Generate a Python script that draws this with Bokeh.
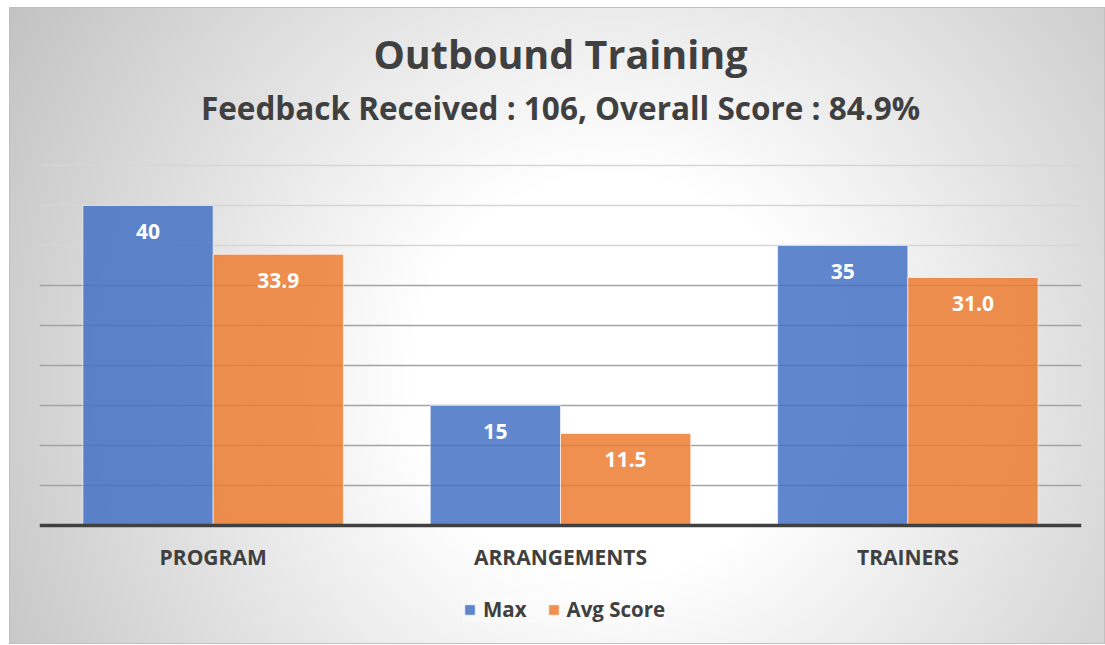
from bokeh.plotting import figure
from bokeh.models import (ColumnDataSource, FactorRange, Range1d, Legend,
                          LegendItem, Grid, FixedTicker, Span)
from bokeh.transform import dodge
from bokeh.core.properties import value
from bokeh.embed import file_html
from bokeh.resources import INLINE

# ---- data ----
categories = ["PROGRAM", "ARRANGEMENTS", "TRAINERS"]
max_values = [40, 15, 35]
avg_values = [33.9, 11.5, 31.0]
max_labels = [f"{v:.0f}" for v in max_values]
avg_labels = [f"{v:.1f}" for v in avg_values]
series_names = ["Max", "Avg Score"]
light_grid = [35, 40, 45]
dark_grid = [5, 10, 15, 20, 25, 30]
title_text = "Outbound Training"
subtitle_text = "Feedback Received : 106, Overall Score : 84.9%"

# ---- layout / style ----
FONT = "Open Sans"
TXT = "#404040"
BLUE = "#4472C4"
ORANGE = "#ED7D31"
FIG_W, FIG_H = 1096, 637
PX_PER_UNIT = 8.0          # vertical scale
TOP_PX = 158               # pixel row of value 45 (from top of figure)
ZERO_PX = 518              # pixel row of value 0
y_end = 45 + TOP_PX / PX_PER_UNIT
y_start = -(FIG_H - ZERO_PX) / PX_PER_UNIT

src = ColumnDataSource(dict(cat=categories, maxv=max_values, avgv=avg_values,
                            maxl=max_labels, avgl=avg_labels))

p = figure(x_range=FactorRange(factors=categories),
           y_range=Range1d(y_start, y_end),
           width=FIG_W, height=FIG_H, output_backend="svg",
           toolbar_location=None, x_axis_location=None, y_axis_location=None,
           min_border_left=30, min_border_right=24, min_border_top=0,
           min_border_bottom=0, title=None)
p.margin = (7, 0, 0, 9)

p.background_fill_alpha = 0
p.border_fill_alpha = 0
p.outline_line_color = None
p.styles = {
    "background": "radial-gradient(circle farthest-corner at 55% 58%, #ffffff 0%, #ffffff 28%, #c2c2c2 100%)",
    "box-shadow": "inset 0 0 0 1px #c0c0c0",
}

# grids
for g in p.grid:
    g.visible = False
p.add_layout(Grid(dimension=1, ticker=FixedTicker(ticks=light_grid),
                  grid_line_color="#d6d6d6", grid_line_width=1.5))
p.add_layout(Grid(dimension=1, ticker=FixedTicker(ticks=dark_grid),
                  grid_line_color="#a3a3a3", grid_line_width=1.5))

# bars
r1 = p.vbar(x=dodge("cat", -0.1875, range=p.x_range), top="maxv", bottom=0,
            width=0.375, source=src, fill_color=BLUE, fill_alpha=0.85,
            line_color="#ffffff", line_alpha=0.6, line_width=1)
r2 = p.vbar(x=dodge("cat", 0.1875, range=p.x_range), top="avgv", bottom=0,
            width=0.375, source=src, fill_color=ORANGE, fill_alpha=0.85,
            line_color="#ffffff", line_alpha=0.6, line_width=1)

# category axis line (value 0)
p.add_layout(Span(location=0, dimension="width", line_color="#404040",
                  line_width=3.5))

# data labels
for col, lbl, off in (("maxv", "maxl", -0.1875), ("avgv", "avgl", 0.1875)):
    p.text(x=dodge("cat", off, range=p.x_range), y=col, text=lbl, source=src,
           y_offset=26, text_align="center", text_baseline="alphabetic",
           text_color="white", text_font=value(FONT), text_font_style="bold",
           text_font_size="21px")

# category labels
p.text(x="cat", y=0, text="cat", source=src, y_offset=31,
       text_align="center", text_baseline="alphabetic", text_color=TXT,
       text_font=value(FONT), text_font_style="bold", text_font_size="21px")

# titles
center_cat = categories[len(categories) // 2]
p.text(x=[center_cat], y=[y_end], text=[title_text], y_offset=46,
       text_align="center", text_baseline="alphabetic", text_color=TXT,
       text_font=value(FONT), text_font_style="bold", text_font_size="39.5px")
p.text(x=[center_cat], y=[y_end], text=[subtitle_text], y_offset=100,
       text_align="center", text_baseline="alphabetic", text_color=TXT,
       text_font=value(FONT), text_font_style="bold", text_font_size="31.5px")

# legend
legend = Legend(items=[LegendItem(label=series_names[0], renderers=[r1]),
                       LegendItem(label=series_names[1], renderers=[r2])],
                orientation="horizontal", location=(424, 21),
                glyph_width=13, glyph_height=13, label_standoff=7, spacing=20,
                padding=8, margin=0,
                background_fill_color="white", background_fill_alpha=0.3,
                border_line_color=None,
                label_text_font=FONT, label_text_font_style="bold",
                label_text_font_size="20.5px", label_text_color=TXT)
p.add_layout(legend)

open("out.html", "w").write(file_html(p, INLINE))
